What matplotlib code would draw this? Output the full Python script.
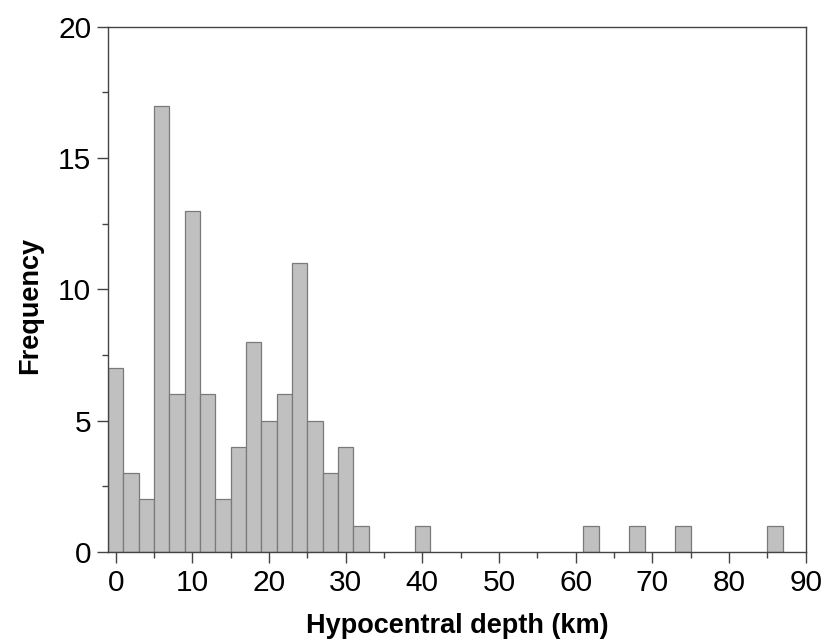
import numpy as np
import matplotlib
matplotlib.use("Agg")
import matplotlib.pyplot as plt
from matplotlib.ticker import MultipleLocator

plt.rcParams['font.family'] = ['Liberation Sans', 'DejaVu Sans']

# bin centres (km) and counts, bin width 2 km
depth = [0, 2, 4, 6, 8, 10, 12, 14, 16, 18, 20, 22, 24, 26, 28, 30, 32,
         40, 62, 68, 74, 86]
freq = [7, 3, 2, 17, 6, 13, 6, 2, 4, 8, 5, 6, 11, 5, 3, 4, 1,
        1, 1, 1, 1, 1]

fig = plt.figure(figsize=(8.26, 6.44), dpi=100)
ax = fig.add_axes([0.1308, 0.1429, 0.8446, 0.8156])

ax.bar(depth, freq, width=2, align='center', color='#c0c0c0',
       edgecolor='#7a7a7a', linewidth=0.9)

ax.set_xlim(-1, 90)
ax.set_ylim(0, 20)
ax.xaxis.set_major_locator(MultipleLocator(10))
ax.xaxis.set_minor_locator(MultipleLocator(5))
ax.yaxis.set_major_locator(MultipleLocator(5))
ax.yaxis.set_minor_locator(MultipleLocator(2.5))

for s in ax.spines.values():
    s.set_color('#444444')
    s.set_linewidth(1.0)

ax.tick_params(which='major', direction='out', length=8, width=1,
               color='#444444', labelsize=21.5, pad=4)
ax.tick_params(which='minor', direction='out', length=4.5, width=1,
               color='#444444')

ax.set_xlabel("Hypocentral depth (km)", fontsize=19.5, fontweight='bold',
              labelpad=12)
ax.set_ylabel("Frequency", fontsize=19.5, fontweight='bold')
ax.yaxis.set_label_coords(-0.093, 0.469)

plt.savefig("out.png", dpi=100)
